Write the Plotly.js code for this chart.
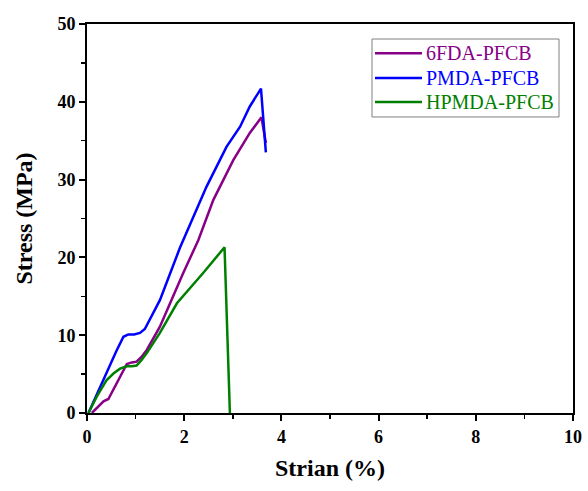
<!DOCTYPE html>
<html>
<head>
<meta charset="utf-8">
<script src="https://cdn.plot.ly/plotly-3.0.1.min.js"></script>
<style>html,body{margin:0;padding:0;background:#fff;}#chart{width:588px;height:491px;}</style>
</head>
<body>
<div id="chart"></div>
<script>
// Tensile stress-strain curves of the three PFCB films
const strain6FDA = [0.10, 0.22, 0.34, 0.44, 0.62, 0.82, 0.92, 1.02, 1.12, 1.23, 1.50, 1.98, 2.29, 2.60, 3.01, 3.35, 3.59, 3.68];
const stress6FDA = [0.0, 0.8, 1.5, 1.8, 4.0, 6.3, 6.5, 6.6, 7.2, 8.1, 11.1, 18.0, 22.2, 27.4, 32.5, 36.0, 38.0, 34.7];

const strainPMDA = [0.03, 0.20, 0.40, 0.60, 0.75, 0.85, 0.97, 1.09, 1.19, 1.50, 1.91, 2.46, 2.87, 3.15, 3.35, 3.58, 3.68];
const stressPMDA = [0.0, 2.4, 5.1, 7.9, 9.8, 10.1, 10.1, 10.3, 10.8, 14.5, 21.2, 29.1, 34.2, 36.8, 39.4, 41.7, 33.5];

const strainHPMDA = [0.03, 0.20, 0.40, 0.55, 0.68, 0.82, 0.92, 1.02, 1.12, 1.23, 1.50, 1.85, 2.39, 2.83, 2.94];
const stressHPMDA = [0.0, 2.1, 4.2, 5.1, 5.7, 6.0, 6.0, 6.1, 6.8, 7.7, 10.3, 14.1, 18.0, 21.3, 0.0];

const seriesNames = ['6FDA-PFCB', 'PMDA-PFCB', 'HPMDA-PFCB'];
const seriesColors = ['#880088', '#0000ff', '#008000'];

const xTickVals = [0, 2, 4, 6, 8, 10];
const yTickVals = [0, 10, 20, 30, 40, 50];

const xs = [strain6FDA, strainPMDA, strainHPMDA];
const ys = [stress6FDA, stressPMDA, stressHPMDA];

const traces = xs.map((x, i) => ({
  x: x,
  y: ys[i],
  type: 'scatter',
  mode: 'lines',
  name: seriesNames[i],
  line: {color: seriesColors[i], width: 2.5}
}));

const serif = 'Liberation Serif, Times New Roman, serif';
const bold = v => '<b>' + v + '</b>';

// Legend drawn as a framed box in paper coordinates: line sample + coloured label per series
const legendBox = {x0: 0.5864, x1: 0.9712, y0: 0.761, y1: 0.9614};
const legendRowY = [0.925, 0.861, 0.7995];
const legendShapes = [{
  type: 'rect', xref: 'paper', yref: 'paper',
  x0: legendBox.x0, x1: legendBox.x1, y0: legendBox.y0, y1: legendBox.y1,
  line: {color: '#808080', width: 1}, fillcolor: 'rgba(0,0,0,0)'
}];
const legendAnnotations = [];
seriesNames.forEach((name, i) => {
  legendShapes.push({
    type: 'line', xref: 'paper', yref: 'paper',
    x0: 0.5926, x1: 0.6893, y0: legendRowY[i], y1: legendRowY[i],
    line: {color: seriesColors[i], width: 2.5}
  });
  legendAnnotations.push({
    xref: 'paper', yref: 'paper', x: 0.6934, y: legendRowY[i],
    xanchor: 'left', yanchor: 'middle', showarrow: false,
    text: name, font: {family: serif, size: 20, color: seriesColors[i]}
  });
});

const layout = {
  width: 588,
  height: 491,
  margin: {l: 87, r: 15, t: 24, b: 78},
  paper_bgcolor: '#fff',
  plot_bgcolor: '#fff',
  showlegend: false,
  shapes: legendShapes,
  annotations: legendAnnotations,
  xaxis: {
    range: [0, 10],
    tickvals: xTickVals,
    ticktext: xTickVals.map(bold),
    showgrid: false,
    zeroline: false,
    showline: true,
    mirror: true,
    linecolor: '#000',
    linewidth: 2,
    ticks: 'outside',
    ticklen: 6,
    tickwidth: 2,
    tickcolor: '#000',
    minor: {dtick: 1, ticks: 'outside', ticklen: 4, tickwidth: 1.5, tickcolor: '#000'},
    tickfont: {family: serif, size: 18, color: '#000'},
    title: {text: '<b>Strian (%)</b>', font: {family: serif, size: 24, color: '#000'}, standoff: 14}
  },
  yaxis: {
    range: [0, 50],
    tickvals: yTickVals,
    ticktext: yTickVals.map(bold),
    showgrid: false,
    zeroline: false,
    showline: true,
    mirror: true,
    linecolor: '#000',
    linewidth: 2,
    ticks: 'outside',
    ticklen: 6,
    tickwidth: 2,
    tickcolor: '#000',
    minor: {dtick: 5, ticks: 'outside', ticklen: 4, tickwidth: 1.5, tickcolor: '#000'},
    tickfont: {family: serif, size: 18, color: '#000'},
    title: {text: '<b>Stress (MPa)</b>', font: {family: serif, size: 24, color: '#000'}, standoff: 18}
  }
};

Plotly.newPlot('chart', traces, layout, {displayModeBar: false, staticPlot: true});
</script>
</body>
</html>
